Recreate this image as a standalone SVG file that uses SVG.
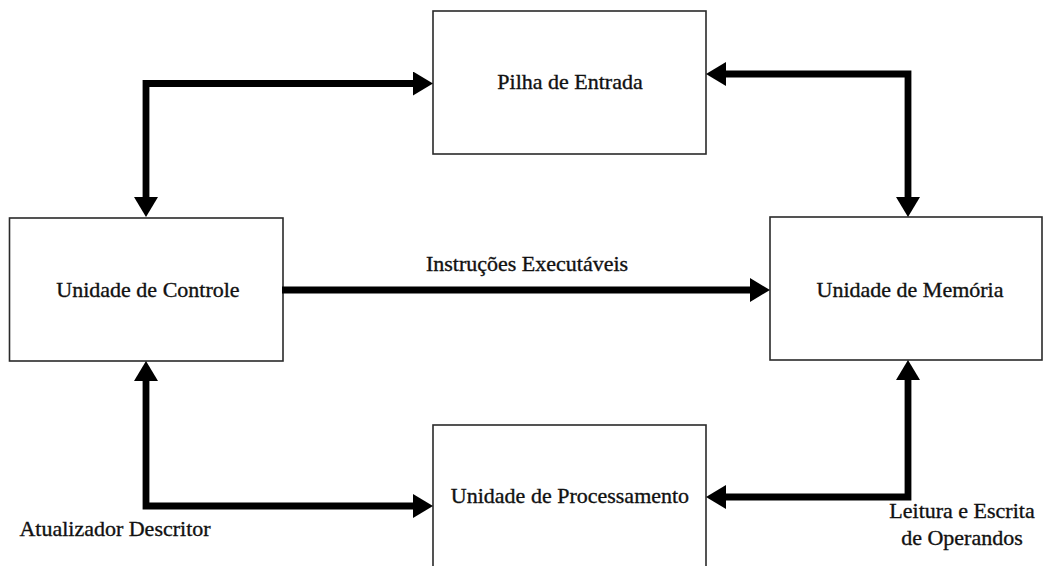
<svg xmlns="http://www.w3.org/2000/svg" width="1045" height="566" viewBox="0 0 1045 566">
  <style>
    .box { fill: #ffffff; stroke: #2a2a2a; stroke-width: 1.6; }
    .lbl { font-family: "Liberation Serif", "Times New Roman", serif; font-size: 22px; fill: #111; stroke: #111; stroke-width: 0.35; text-anchor: middle; }
    .wire { fill: none; stroke: #000; stroke-width: 6.8; stroke-linejoin: miter; stroke-linecap: butt; }
  </style>
  <defs>
    <marker id="head" viewBox="0 0 20 24" markerWidth="20" markerHeight="24" refX="1" refY="12" orient="auto-start-reverse" markerUnits="userSpaceOnUse">
      <path d="M0,0 L20,12 L0,24 z" fill="#000"/>
    </marker>
  </defs>
  <rect width="1045" height="566" fill="#ffffff"/>

  <g id="pilha-entrada">
    <rect class="box" x="433" y="11" width="273" height="143"/>
    <text class="lbl" x="570" y="89">Pilha de Entrada</text>
  </g>

  <g id="unidade-controle">
    <rect class="box" x="9.5" y="218" width="273.5" height="143"/>
    <text class="lbl" x="148" y="297">Unidade de Controle</text>
  </g>

  <g id="unidade-memoria">
    <rect class="box" x="770" y="217" width="272" height="143"/>
    <text class="lbl" x="910" y="297">Unidade de Memória</text>
  </g>

  <g id="unidade-processamento">
    <rect class="box" x="433" y="425" width="273" height="160"/>
    <text class="lbl" x="570" y="503">Unidade de Processamento</text>
  </g>

  <g id="connectors">
    <path class="wire" d="M146,198 V83.5 H414" marker-start="url(#head)" marker-end="url(#head)"/>
    <path class="wire" d="M725,74 H908 V198" marker-start="url(#head)" marker-end="url(#head)"/>
    <path class="wire" d="M282,290 H751" marker-end="url(#head)"/>
    <path class="wire" d="M146,380 V506 H414" marker-start="url(#head)" marker-end="url(#head)"/>
    <path class="wire" d="M908,379 V497 H725" marker-start="url(#head)" marker-end="url(#head)"/>
    <text class="lbl" x="527" y="271">Instruções Executáveis</text>
    <text class="lbl" x="115" y="536">Atualizador Descritor</text>
    <text class="lbl" x="962" y="518">Leitura e Escrita</text>
    <text class="lbl" x="962" y="545">de Operandos</text>
  </g>
</svg>
